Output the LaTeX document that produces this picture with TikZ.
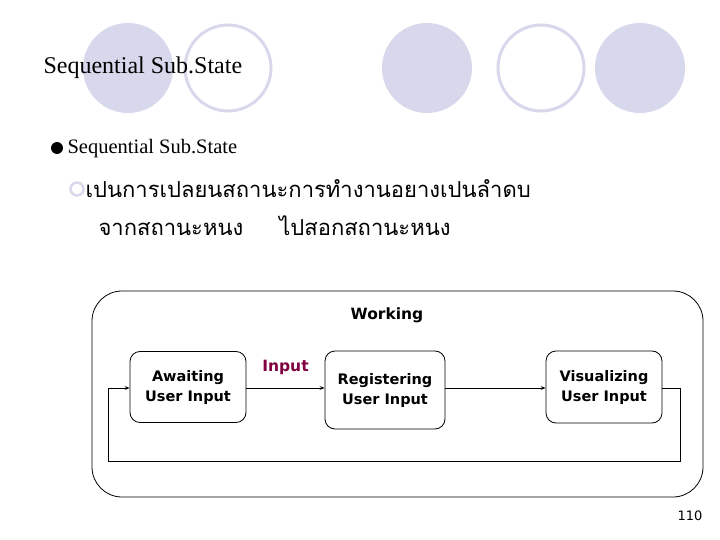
\documentclass[tikz,border=0pt]{standalone}
\usepackage{fontspec}
\setmainfont{Liberation Serif}
\setsansfont{DejaVu Sans}
\newfontfamily\thaifont[Script=Thai]{Loma}
\usetikzlibrary{arrows.meta}
\begin{document}
\begin{tikzpicture}[x=1pt,y=-1pt,
  statebox/.style={draw,thick,rounded corners=10pt,align=center,font=\sffamily\bfseries\fontsize{14.5}{20}\selectfont},
  flow/.style={thick,-{Stealth[length=5pt]}}]

    % Define colors
    \definecolor{pastellilac}{RGB}{216,216,236}
    \definecolor{inputred}{RGB}{128,0,64}

    \useasboundingbox (0,0) rectangle (720,540);

    % decoration circles
    \fill[pastellilac] (128,68) circle(45);
    \draw[pastellilac, line width=3pt] (228,68) circle(43);
    \fill[pastellilac] (427,68) circle(45);
    \draw[pastellilac, line width=3pt] (541,68) circle(43);
    \fill[pastellilac] (640,68) circle(45);

    \node[anchor=west, font=\fontsize{24}{26}\selectfont] (title) at (40,68) {Sequential Sub.State};

    %-------------
    % Bullets
    \fill (57,148) circle(6);
    \node[anchor=west, font=\fontsize{20.5}{22}\selectfont] (item) at (64,149) {Sequential Sub.State};
    \draw[pastellilac, line width=2.5pt] (77,189) circle(6.5);
    \node[anchor=west, font=\thaifont\fontsize{22}{24}\selectfont] (line1) at (82,189) {เปนการเปลยนสถานะการทำงานอยางเปนลำดบ};
    \node[anchor=west, font=\thaifont\fontsize{22}{24}\selectfont] (line2) at (95,226) {จากสถานะหนง\hspace{36pt}ไปสอกสถานะหนง};

    %-------------
    % Working state
    \draw[thick, rounded corners=30pt] (92,291) rectangle (703,497);
    \node[font=\sffamily\bfseries\fontsize{15.5}{18}\selectfont] (working) at (387,315) {Working};

    \node[statebox, minimum width=116pt, minimum height=71pt] (await) at (188,387) {Awaiting\\User Input};
    \node[statebox, minimum width=120pt, minimum height=78pt] (register) at (385,390) {Registering\\User Input};
    \node[statebox, minimum width=116pt, minimum height=72pt] (visual) at (604,387) {Visualizing\\User Input};

    \draw[flow] (await.east |- 0,388) -- node[above=10pt, text=inputred, font=\sffamily\bfseries\fontsize{15.5}{18}\selectfont] (inlabel) {Input} (register.west |- 0,388);
    \draw[flow] (register.east |- 0,388) -- (visual.west |- 0,388);
    \draw[flow] (visual.east |- 0,388) -- ++(18,0) |- (108,461) |- (await.west |- 0,388);

    \node[font=\sffamily\fontsize{13}{15}\selectfont] (page) at (690,516) {110};

\end{tikzpicture}
\end{document}
